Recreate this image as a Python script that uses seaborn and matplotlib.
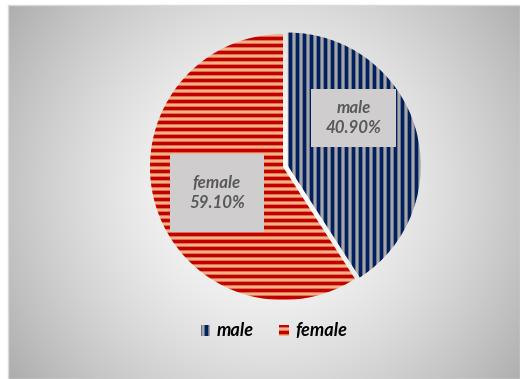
import numpy as np
import matplotlib
matplotlib.use("Agg")
import matplotlib.pyplot as plt
from matplotlib.patches import Rectangle
import seaborn as sns

# ---- data ----
categories = ["male", "female"]
shares = [40.90, 59.10]
label_texts = ["male\n40.90%", "female\n59.10%"]

# ---- style ----
sns.set_theme(style="white")
plt.rcParams["font.family"] = ["Lato", "DejaVu Sans"]
plt.rcParams["hatch.linewidth"] = 3.2

DPI = 84
W, H = 520, 379
fig = plt.figure(figsize=(W / DPI, H / DPI), dpi=DPI)
fig.patch.set_facecolor("white")
ax = fig.add_axes([0, 0, 1, 1])
ax.set_xlim(0, W)
ax.set_ylim(0, H)
ax.axis("off")

# background radial gradient inside frame
fx0, fx1, fy0, fy1 = 8, W, 0, H - 5
gx, gy = np.meshgrid(np.linspace(fx0, fx1, 260), np.linspace(fy0, fy1, 190))
cx, cy = 268, H - 190
d = np.hypot(gx - cx, gy - cy)
d = d / d.max()
val = 1.0 - (82 / 255) * d ** 1.5
img = np.dstack([val, val, val])
ax.imshow(img, extent=(fx0, fx1, fy0, fy1), origin="lower", aspect="auto",
          interpolation="bilinear", zorder=0)
ax.add_patch(Rectangle((fx0, fy0), fx1 - fx0, fy1 - fy0, fill=False,
                       edgecolor="#D9D9D9", lw=1.2, zorder=1))

# pie
face_colors = ["#A6A6A6", "#F4B183"]
stripe_colors = ["#002060", "#C00000"]
hatches = ["||", "--"]
center = (283, H - 167)
radius = 133
wedges, _ = ax.pie(shares, radius=radius, center=center, startangle=90,
                   counterclock=False, explode=[5.0, 0.0],
                   colors=face_colors, frame=True,
                   wedgeprops=dict(linewidth=0))
for w, ec, h in zip(wedges, stripe_colors, hatches):
    w.set_edgecolor(ec)
    w.set_hatch(h)
    w.set_linewidth(0)
    w.set_zorder(2)
ax.set_xlim(0, W)
ax.set_ylim(0, H)
ax.set_aspect("equal")
ax.axis("off")

# data labels in grey boxes (offsets relative to pie centre, px)
label_offsets = [(70.5, 49), (-66, -26)]
box_sizes = [(85, 58), (94, 78)]
for txt, (dx, dy), (bw, bh) in zip(label_texts, label_offsets, box_sizes):
    lx, ly = center[0] + dx, center[1] + dy
    ax.add_patch(Rectangle((lx - bw / 2, ly - bh / 2), bw, bh,
                           facecolor="#CFCDCD", edgecolor="none", zorder=3))
    ax.text(lx, ly, txt, ha="center", va="center", color="#595959",
            fontsize=14.5, fontweight="bold", fontstyle="italic",
            linespacing=1.3, zorder=4)

# legend
leg = ax.legend(wedges, categories, loc="center", ncol=2,
                bbox_to_anchor=(274 / W, 1 - 331 / H), frameon=False,
                prop=dict(size=15.5, weight="bold", style="italic"),
                handlelength=0.55, handleheight=0.55, handletextpad=0.35,
                columnspacing=1.4, borderpad=0)
for t in leg.get_texts():
    t.set_color("black")

fig.savefig("out.png", dpi=DPI, facecolor="white")
